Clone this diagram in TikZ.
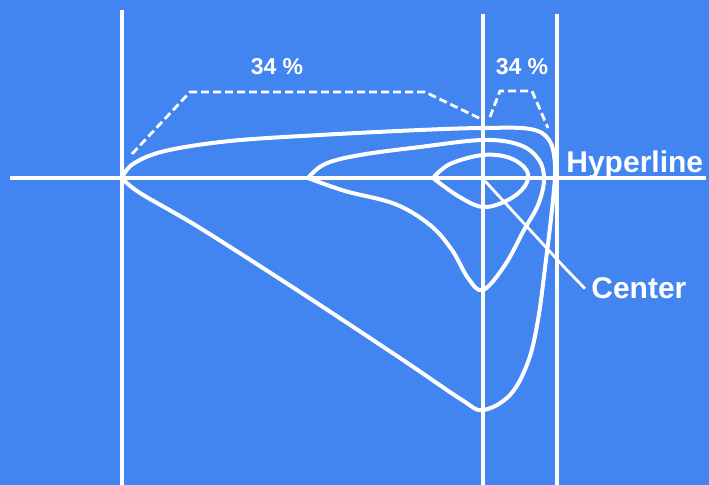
\documentclass[tikz,border=0pt]{standalone}
\usepackage{fontspec}
\setsansfont{Liberation Sans}
\usepackage{xcolor}
\usetikzlibrary{positioning, calc}
\definecolor{paper}{RGB}{66,132,240}

\begin{document}
\begin{tikzpicture}[x=0.5pt, y=-0.5pt,
    every node/.style={text=white, font=\sffamily\bfseries, inner sep=0pt},
    axis/.style={white, line width=1.6pt},
    curve/.style={white, line width=2pt, line join=round, line cap=round},
    dim/.style={white, line width=1.4pt, dash pattern=on 4pt off 2pt}]
    \fill[paper] (0,0) rectangle (709,485);
    \useasboundingbox (0,0) rectangle (709,485);
    % axes
    \coordinate (hl) at (10,178);   \coordinate (hr) at (706,178);
    \coordinate (at) at (122,10);   \coordinate (ab) at (122,485);
    \coordinate (ct) at (483,14);   \coordinate (cb) at (483,485);
    \coordinate (bt) at (557,14);   \coordinate (bb) at (557,485);
    \coordinate (cen) at (485,181);
    \draw[axis] (hl) -- (hr);
    \draw[axis] (at) -- (ab);
    \draw[axis] (ct) -- (cb);
    \draw[axis] (bt) -- (bb);
    % curves
    \draw[curve] plot[smooth, tension=0.6] coordinates {(122,178) (133,164) (165,151)
        (230,141) (320,135) (420,130) (483,128) (530,129) (549,140) (555,165)
        (553,200) (546,260) (538,320) (528,362) (510,395) (483,410) (462,400)
        (400,358) (300,292) (200,228) (140,193) (122,178)};
    \draw[curve] plot[smooth, tension=0.6] coordinates {(308,178) (325,164) (360,155)
        (420,147) (483,140) (520,145) (539,160) (544,180) (538,205) (524,230)
        (505,265) (483,290) (468,278) (452,250) (430,225) (395,204) (345,191)
        (308,178)};
    \draw[curve] plot[smooth, tension=0.6] coordinates {(433,178) (450,164) (483,155)
        (510,158) (527,171) (525,186) (508,200) (483,207) (458,196) (433,178)};
    % dimensions
    \draw[dim] (132,154) -- (190,92) -- (425,92) -- (481,119);
    \draw[dim] (490,117) -- (500,91) -- (532,91) -- (548,128);
    \node[font=\sffamily\bfseries\fontsize{11.5}{12}\selectfont, anchor=base] (pl) at (277,75) {34 \%};
    \node[font=\sffamily\bfseries\fontsize{11.5}{12}\selectfont, anchor=base] (pr) at (522,75) {34 \%};
    % labels
    \node[font=\sffamily\bfseries\fontsize{15}{16}\selectfont, anchor=base west] (hyp) at (566,173) {Hyperline};
    \node[font=\sffamily\bfseries\fontsize{15}{16}\selectfont, anchor=base west] (ctr) at (591,299) {Center};
    \coordinate (bend) at (565,268);
    \draw[white, line width=1.4pt] (cen) -- (bend) -- ([xshift=-3pt]ctr.west);
\end{tikzpicture}
\end{document}
